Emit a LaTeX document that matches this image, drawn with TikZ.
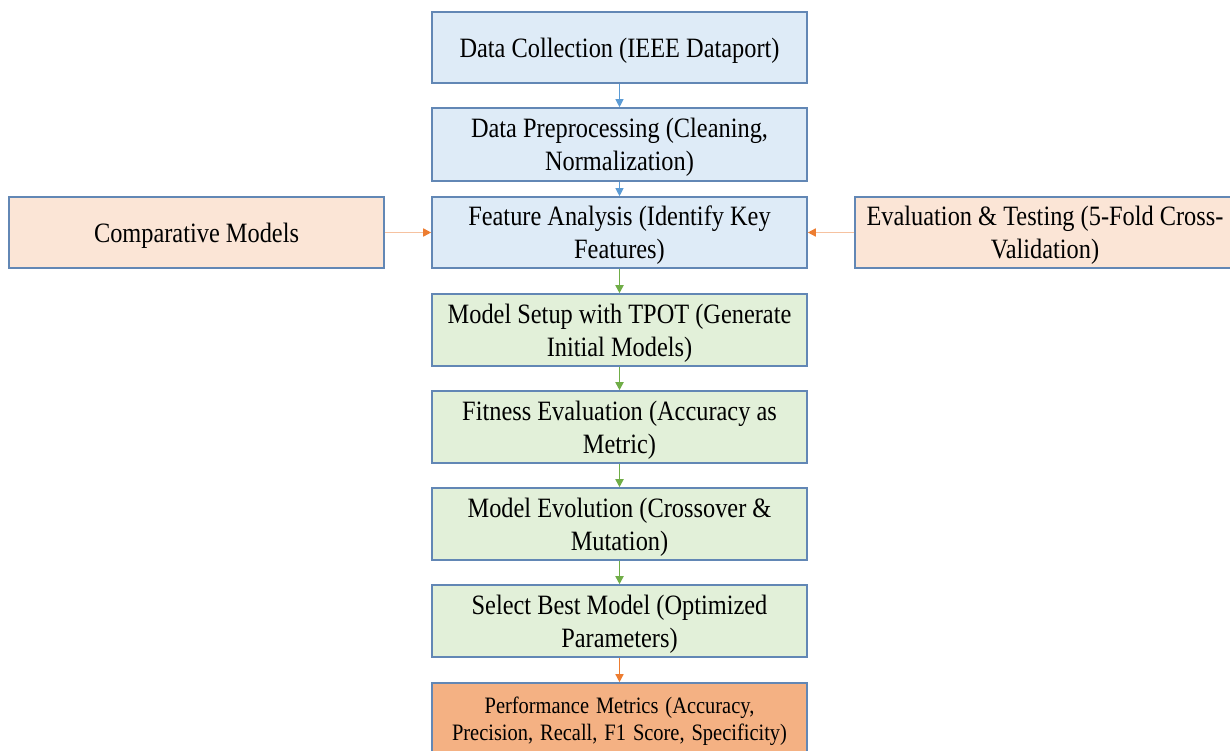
\documentclass[tikz,border=0pt]{standalone}
\usepackage{fontspec}
\setmainfont{Liberation Serif}
\usetikzlibrary{arrows.meta}
\definecolor{bluefill}{HTML}{DEEBF7}
\definecolor{greenfill}{HTML}{E2F0D9}
\definecolor{peachfill}{HTML}{FBE5D6}
\definecolor{orangefill}{HTML}{F4B183}
\definecolor{boxline}{HTML}{6287B5}
\definecolor{bluearr}{HTML}{5B9BD5}
\definecolor{greenarr}{HTML}{70AD47}
\definecolor{orangearr}{HTML}{ED7D31}
\definecolor{lightorange}{HTML}{F6C2A0}
\newcommand\sq[1]{\raisebox{-3pt}[\height][\depth]{\scalebox{0.87}[1]{\begin{tabular}{@{}c@{}}#1\end{tabular}}}}
\newcommand\widewords{\spaceskip=0.34em\relax}
\tikzset{
  box/.style={rectangle, draw=boxline, line width=1.6pt, minimum width=375pt,
    minimum height=72pt, inner sep=0pt, align=center,
    font=\fontsize{28}{33}\selectfont},
  bluebox/.style={box, fill=bluefill},
  greenbox/.style={box, fill=greenfill},
  peachbox/.style={box, fill=peachfill},
  orangebox/.style={box, fill=orangefill},
  bluearrow/.style={draw=bluearr, line width=1pt, -{Triangle[length=8pt,width=8pt]}},
  greenarrow/.style={draw=greenarr, line width=1.8pt, -{Triangle[length=8pt,width=8pt]}},
  orangearrow/.style={draw=orangearr, line width=1.4pt, -{Triangle[length=8pt,width=8pt]}},
  sidearrow/.style={draw=lightorange, line width=1.6pt, -{Triangle[length=8pt,width=8pt,color=orangearr]}}
}
\begin{document}
\begin{tikzpicture}[x=1pt,y=1pt]
\useasboundingbox (0,0) rectangle (1230,-751);
\fill[white] (0,0) rectangle (1230,-751);
\clip (0,0) rectangle (1230,-751);
\node[bluebox, minimum height=71pt] (b1) at (619.5,-47.5) {\sq{Data Collection (IEEE Dataport)}};
\node[bluebox, minimum height=73pt] (b2) at (619.5,-144.5) {\sq{Data Preprocessing (Cleaning,\\Normalization)}};
\node[bluebox, minimum height=71pt] (b3) at (619.5,-232.5) {\sq{Feature Analysis (Identify Key\\Features)}};
\node[greenbox] (b4) at (619.5,-330) {\sq{Model Setup with TPOT (Generate\\Initial Models)}};
\node[greenbox] (b5) at (619.5,-427) {\sq{Fitness Evaluation (Accuracy as\\Metric)}};
\node[greenbox] (b6) at (619.5,-524) {\sq{Model Evolution (Crossover \&\\Mutation)}};
\node[greenbox] (b7) at (619.5,-621) {\sq{Select Best Model (Optimized\\Parameters)}};
\node[orangebox, font=\fontsize{23.5}{27}\selectfont] (b8) at (619.5,-719) {\sq{\widewords Performance Metrics (Accuracy,\\\widewords Precision, Recall, F1 Score, Specificity)}};
\node[peachbox, minimum height=71pt] (lt) at (196.5,-232.5) {\sq{Comparative Models}};
\node[peachbox, minimum height=71pt, minimum width=380pt] (rt) at (1045,-232.5) {\sq{Evaluation \& Testing (5-Fold Cross-\\Validation)}};
\draw[bluearrow] (b1) -- (b2);
\draw[bluearrow] (b2) -- (b3);
\draw[greenarrow] (b3) -- (b4);
\draw[greenarrow] (b4) -- (b5);
\draw[greenarrow] (b5) -- (b6);
\draw[greenarrow] (b6) -- (b7);
\draw[orangearrow] (b7) -- (b8);
\draw[sidearrow] (lt) -- (b3);
\draw[sidearrow] (rt) -- (b3);
\end{tikzpicture}
\end{document}
